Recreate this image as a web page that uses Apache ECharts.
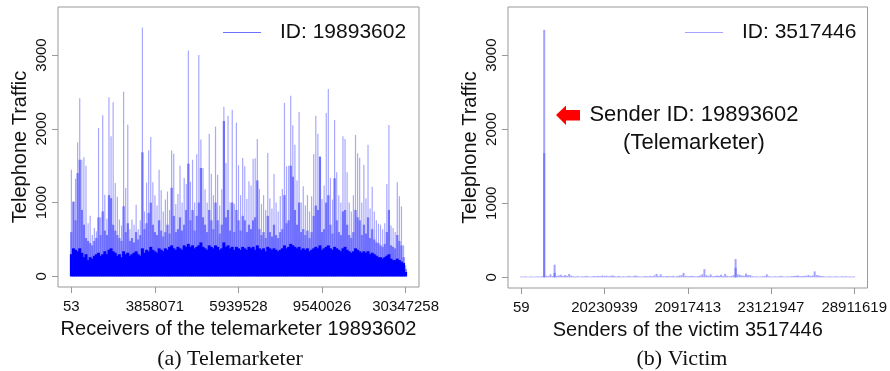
<!DOCTYPE html>
<html>
<head>
<meta charset="utf-8">
<script src="https://cdn.jsdelivr.net/npm/echarts@6/dist/echarts.min.js"></script>
<style>
  html, body { margin: 0; padding: 0; background: #ffffff; }
  #chart { width: 890px; height: 371px; }
</style>
</head>
<body>
<div id="chart"></div>
<script>
// tick positions (bin index) and their receiver / sender IDs
const tickBins = [0, 40, 80, 120, 160];
const receiverTicks = ['53', '3858071', '5939528', '9540026', '30347258'];
const senderTicks = ['59', '20230939', '20917413', '23121947', '28911619'];
const yTicks = [0, 1000, 2000, 3000];

// telemarketer 19893602: traffic per receiver bin (highest spike, mid envelope, dense bulk)
const peakTraffic = [
  1446, 1017, 1324, 1816, 2413, 1580, 1613, 1500, 720, 822, 560, 655, 610, 2010, 800, 2182,
  1107, 780, 2427, 1898, 2359, 1265, 1080, 770, 690, 2503, 1197, 2056, 640, 770, 700, 971,
  640, 760, 3371, 880, 1270, 1708, 1889, 1275, 1100, 960, 1446, 1166, 880, 1040, 1150, 900,
  1704, 1663, 980, 1116, 1500, 1000, 1333, 1250, 3059, 1283, 1580, 1000, 1654, 3000, 1853, 1469,
  1180, 1000, 1934, 1392, 1100, 2029, 1378, 960, 1180, 2300, 1536, 2178, 1000, 2259, 980, 2083,
  1505, 1100, 1604, 1491, 1050, 1288, 1230, 1590, 1600, 1862, 1184, 980, 1100, 900, 1672, 1060,
  920, 1387, 1000, 880, 1090, 1184, 2350, 1491, 1500, 2449, 2047, 1785, 1300, 2228, 1000, 1220,
  960, 1100, 880, 1084, 1658, 2178, 1934, 1627, 1050, 1230, 2214, 2540, 1333, 1040, 2119, 1410,
  1100, 1000, 1898, 1862, 1410, 1000, 880, 1100, 1916, 1668, 1608, 1000, 1514, 1060, 1785, 920,
  1215, 880, 760, 714, 700, 640, 720, 1252, 2051, 690, 655, 600, 1274, 1084, 949, 420, 150
];
const midTraffic = [
  600, 1010, 760, 1400, 1580, 900, 700, 520, 480, 450, 420, 480, 520, 800, 560, 880,
  620, 560, 1100, 1060, 700, 620, 560, 520, 480, 950, 600, 720, 480, 520, 460, 600,
  500, 560, 1681, 640, 720, 860, 1000, 700, 600, 560, 760, 620, 540, 600, 700, 580,
  1200, 820, 600, 640, 800, 620, 700, 900, 1527, 760, 900, 620, 820, 1000, 1469, 800,
  700, 600, 900, 760, 640, 1000, 760, 580, 700, 2105, 800, 900, 620, 1000, 600, 900,
  760, 620, 820, 760, 600, 700, 640, 760, 800, 1300, 640, 560, 600, 520, 820, 600,
  540, 700, 560, 520, 600, 640, 1100, 720, 760, 1500, 1350, 900, 700, 1000, 600, 640,
  560, 620, 520, 600, 820, 960, 900, 1620, 600, 640, 1000, 1100, 700, 580, 1330, 760,
  600, 560, 880, 900, 700, 560, 520, 600, 900, 800, 760, 560, 700, 580, 800, 520,
  640, 500, 460, 450, 420, 400, 440, 600, 900, 420, 400, 380, 560, 480, 420, 260, 100
];
const bulkTraffic = [
  300, 380, 360, 340, 380, 320, 260, 300, 220, 260, 240, 280, 300, 320, 280, 300,
  340, 300, 360, 380, 340, 320, 280, 300, 260, 340, 300, 320, 280, 300, 320, 340,
  300, 280, 380, 320, 360, 340, 400, 360, 340, 320, 380, 360, 340, 380, 360, 400,
  420, 380, 360, 400, 380, 360, 420, 400, 440, 400, 420, 380, 400, 420, 460, 400,
  380, 360, 420, 400, 380, 420, 400, 360, 380, 460, 400, 420, 380, 400, 360, 400,
  380, 360, 400, 380, 360, 400, 380, 400, 360, 420, 380, 360, 380, 340, 400, 380,
  360, 380, 360, 340, 360, 380, 420, 380, 400, 440, 420, 400, 380, 400, 360, 380,
  360, 380, 340, 360, 380, 400, 380, 420, 360, 380, 400, 420, 380, 360, 400, 380,
  360, 340, 380, 400, 360, 340, 320, 340, 380, 360, 340, 320, 340, 320, 340, 300,
  320, 300, 280, 260, 260, 240, 260, 280, 300, 240, 220, 220, 240, 220, 200, 180, 60
];

// victim 3517446: traffic per sender bin
const victimTraffic = [
  12, 10, 14, 8, 10, 12, 8, 10, 12, 10, 15, 3342, 20, 15, 40, 18,
  171, 20, 25, 35, 18, 30, 20, 45, 22, 15, 12, 18, 10, 14, 12, 20,
  15, 10, 12, 18, 14, 20, 15, 25, 18, 22, 15, 20, 25, 15, 12, 18,
  10, 14, 12, 15, 20, 12, 18, 25, 15, 12, 10, 14, 18, 12, 20, 15,
  25, 45, 18, 40, 15, 12, 18, 14, 15, 20, 12, 18, 25, 30, 60, 20,
  15, 18, 20, 15, 12, 18, 25, 40, 110, 30, 20, 40, 15, 18, 25, 20,
  35, 18, 45, 20, 15, 18, 30, 247, 40, 35, 25, 20, 50, 30, 30, 15,
  12, 14, 10, 12, 15, 18, 40, 15, 12, 10, 14, 12, 15, 20, 12, 10,
  14, 12, 15, 18, 20, 25, 15, 18, 20, 22, 30, 20, 25, 80, 30, 25,
  18, 15, 12, 10, 14, 12, 10, 15, 12, 10, 14, 12, 15, 10, 12, 10, 12
];
// overlapping calls at the same sender (darker part of the line)
const victimOverlap = [[11, 1678], [16, 60], [103, 130]];

const FONT = 'Liberation Sans';
const xMin = -6.4, xMax = 166.4, yMin = -144, yMax = 3650;

function xAxisFor(gridIndex, labels, visible) {
  return {
    type: 'value', gridIndex: gridIndex, min: xMin, max: xMax, show: visible,
    name: '', splitLine: { show: false }, axisLine: { show: false, onZero: false },
    axisTick: { show: visible, customValues: tickBins, length: 6, lineStyle: { color: '#999' } },
    axisLabel: {
      show: visible, customValues: tickBins, margin: 12,
      color: '#111', fontFamily: FONT, fontSize: 15,
      formatter: v => labels[tickBins.indexOf(v)]
    }
  };
}

function yAxisFor(gridIndex) {
  return {
    type: 'value', gridIndex: gridIndex, min: yMin, max: yMax,
    name: 'Telephone Traffic', nameLocation: 'middle', nameRotate: 90, nameGap: 28,
    nameTextStyle: { color: '#111', fontFamily: FONT, fontSize: 20 },
    splitLine: { show: false }, axisLine: { show: false, onZero: false },
    axisTick: { show: true, customValues: yTicks, length: 6, lineStyle: { color: '#999' } },
    axisLabel: {
      customValues: yTicks, rotate: 90, margin: 9, align: 'center', verticalAlign: 'bottom',
      color: '#111', fontFamily: FONT, fontSize: 15, formatter: v => String(v)
    }
  };
}

function bars(name, values, xIdx, yIdx, color, width, z) {
  return {
    name: name, type: 'bar', xAxisIndex: xIdx, yAxisIndex: yIdx,
    data: values.map((v, i) => [i, v]),
    barWidth: width, itemStyle: { color: color }, z: z,
    silent: true
  };
}

const chart = echarts.init(document.getElementById('chart'), null, { renderer: 'canvas' });

chart.setOption({
  animation: false,
  backgroundColor: '#ffffff',
  title: [
    { text: '(a) Telemarketer', left: 225, top: 343, textAlign: 'center',
      textStyle: { fontFamily: 'Liberation Serif', fontSize: 22, fontWeight: 'normal', color: '#111' } },
    { text: '(b) Victim', left: 677, top: 343, textAlign: 'center',
      textStyle: { fontFamily: 'Liberation Serif', fontSize: 22, fontWeight: 'normal', color: '#111' } }
  ],
  legend: [
    { data: ['ID: 19893602'], left: 223, top: 22, padding: 0, icon: 'rect',
      itemWidth: 38, itemHeight: 1, selectedMode: false,
      textStyle: { fontFamily: FONT, fontSize: 21, color: '#111', padding: [0, 0, 0, 14] } },
    { data: ['ID: 3517446'], left: 685, top: 22, padding: 0, icon: 'rect',
      itemWidth: 38, itemHeight: 1, selectedMode: false,
      textStyle: { fontFamily: FONT, fontSize: 21, color: '#111', padding: [0, 0, 0, 14] } }
  ],
  grid: [
    { left: 58, top: 7, width: 361, height: 280, show: true, borderColor: '#999', borderWidth: 1 },
    { left: 508, top: 7, width: 361, height: 281, show: true, borderColor: '#999', borderWidth: 1 }
  ],
  xAxis: [
    Object.assign(xAxisFor(0, receiverTicks, true), {
      name: 'Receivers of the telemarketer 19893602', nameLocation: 'middle', nameGap: 32,
      nameTextStyle: { color: '#111', fontFamily: FONT, fontSize: 20 }
    }),
    xAxisFor(0, receiverTicks, false),
    xAxisFor(0, receiverTicks, false),
    Object.assign(xAxisFor(1, senderTicks, true), {
      name: 'Senders of the victim 3517446', nameLocation: 'middle', nameGap: 32,
      nameTextStyle: { color: '#111', fontFamily: FONT, fontSize: 20 }
    }),
    xAxisFor(1, senderTicks, false)
  ],
  yAxis: [yAxisFor(0), yAxisFor(1)],
  series: [
    bars('peak', peakTraffic, 0, 0, '#a8a8ff', 1.2, 1),
    bars('ID: 19893602', midTraffic, 1, 0, '#7070ff', 2.2, 2),
    bars('bulk', bulkTraffic, 2, 0, '#0000ff', 3, 3),
    bars('ID: 3517446', victimTraffic, 3, 1, '#a4a4ff', 2, 1),
    {
      name: 'overlap', type: 'bar', xAxisIndex: 4, yAxisIndex: 1,
      data: victimOverlap, barWidth: 2, itemStyle: { color: '#7a7aff' }, z: 2, silent: true
    }
  ],
  graphic: [
    { type: 'polygon', z: 10,
      shape: { points: [[556, 115], [566, 105.5], [566, 110], [580, 110], [580, 120.5], [566, 120.5], [566, 125]] },
      style: { fill: '#ff0000' } },
    { type: 'text', z: 10, x: 694, y: 129,
      style: { text: 'Sender ID: 19893602\n(Telemarketer)', align: 'center', verticalAlign: 'middle',
        font: '22px "Liberation Sans"', lineHeight: 28, fill: '#111' } }
  ]
});

window.addEventListener('resize', () => chart.resize());
</script>
</body>
</html>
